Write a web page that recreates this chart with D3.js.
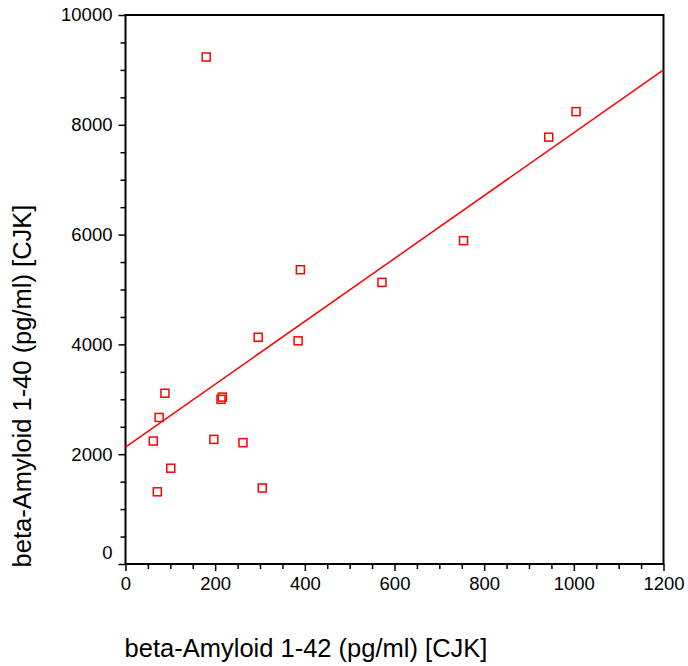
<!DOCTYPE html>
<html><head><meta charset="utf-8">
<script src="https://cdn.jsdelivr.net/npm/d3@7"></script>
<style>body{margin:0;background:#fff}svg{display:block}text{font-family:"Liberation Sans",Arial,Helvetica,sans-serif;fill:#000}</style>
</head><body>
<script>
const abeta42 = [180, 1005, 944, 754, 572, 390, 296, 385, 88, 216, 213, 75, 62, 197, 262, 101, 71, 305];
const abeta40 = [9235, 8240, 7775, 5890, 5130, 5360, 4130, 4065, 3110, 3040, 3000, 2670, 2240, 2270, 2210, 1745, 1315, 1385];
const fitX = [0, 1200];
const fitY = [2130, 9000];
const xTicks = [0, 200, 400, 600, 800, 1000, 1200];
const yTicks = [0, 2000, 4000, 6000, 8000, 10000];
const xTitle = "beta-Amyloid 1-42 (pg/ml) [CJK]";
const yTitle = "beta-Amyloid 1-40 (pg/ml) [CJK]";

const W = 688, H = 666;
const L = 125.5, R = 663.5, T = 15, B = 564;
const svg = d3.select("body").append("svg").attr("width", W).attr("height", H);
const x = d3.scaleLinear().domain([0, 1200]).range([L, R]);
const y = d3.scaleLinear().domain([0, 10000]).range([B, T]);

// minor ticks
const xMinor = d3.range(0, 1201, 50).filter(v => v % 200 !== 0);
const yMinor = d3.range(0, 10001, 500).filter(v => v % 2000 !== 0);
svg.append("g").attr("transform", `translate(0,${B})`)
  .call(d3.axisBottom(x).tickValues(xMinor).tickSize(5).tickFormat(""))
  .call(g => { g.select(".domain").remove(); g.selectAll("line").attr("stroke-width", 1.5); });
svg.append("g").attr("transform", `translate(${L},0)`)
  .call(d3.axisLeft(y).tickValues(yMinor).tickSize(5).tickFormat(""))
  .call(g => { g.select(".domain").remove(); g.selectAll("line").attr("stroke-width", 1.5); });

// major axes
const xa = svg.append("g").attr("transform", `translate(0,${B})`)
  .call(d3.axisBottom(x).tickValues(xTicks).tickSize(7).tickPadding(6).tickFormat(d3.format("d")));
xa.select(".domain").remove();
xa.selectAll("line").attr("stroke-width", 1.5);
xa.selectAll("text").style("font-size", "18.5px");

const ya = svg.append("g").attr("transform", `translate(${L},0)`)
  .call(d3.axisLeft(y).tickValues(yTicks).tickSize(7).tickPadding(6).tickFormat(d3.format("d")));
ya.select(".domain").remove();
ya.selectAll("line").attr("stroke-width", 1.5);
ya.selectAll("text").style("font-size", "18.5px")
  .attr("dy", d => d === 0 ? "-0.28em" : "0.32em");

// frame
svg.append("rect").attr("x", L).attr("y", T).attr("width", R - L).attr("height", B - T)
  .attr("fill", "none").attr("stroke", "#000").attr("stroke-width", 2);

// regression line
svg.append("line")
  .attr("x1", x(fitX[0])).attr("y1", y(fitY[0]))
  .attr("x2", x(fitX[1])).attr("y2", y(fitY[1]))
  .attr("stroke", "#ff0000").attr("stroke-width", 1.5);

// points
const pts = abeta42.map((v, i) => [v, abeta40[i]]);
svg.append("g").selectAll("rect").data(pts).join("rect")
  .attr("x", d => x(d[0]) - 4).attr("y", d => y(d[1]) - 4)
  .attr("width", 8).attr("height", 8)
  .attr("fill", "none").attr("stroke", "#ff0000").attr("stroke-width", 1.5);

// titles
svg.append("text").attr("x", 306).attr("y", 657).attr("text-anchor", "middle")
  .style("font-size", "25.5px").text(xTitle);
svg.append("text").attr("transform", "translate(31,386) rotate(-90)").attr("text-anchor", "middle")
  .style("font-size", "25.5px").text(yTitle);
</script>
</body></html>
